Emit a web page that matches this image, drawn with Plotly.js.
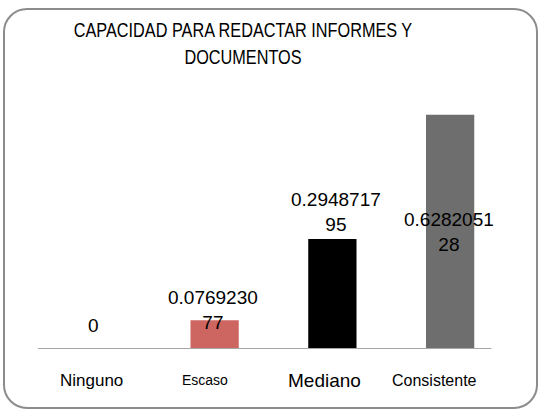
<!DOCTYPE html>
<html>
<head>
<meta charset="utf-8">
<script src="https://cdn.plot.ly/plotly-3.0.1.min.js"></script>
<style>
  body { margin: 0; background: #ffffff; }
  #wrap { position: relative; width: 540px; height: 412px; }
  #chart { position: absolute; left: 0; top: 0; width: 540px; height: 412px; }
  #frame { position: absolute; left: 3px; top: 8px; width: 531px; height: 397px;
           border: 2px solid #8c8c8c; border-radius: 24px; pointer-events: none; }
</style>
</head>
<body>
<div id="wrap"><div id="chart"></div><div id="frame"></div></div>
<script>
const categories = ['Ninguno', 'Escaso', 'Mediano', 'Consistente'];
const values = [0, 0.076923077, 0.294871795, 0.628205128];
const valueLabels = ['0', '0.0769230<br>77', '0.2948717<br>95', '0.6282051<br>28'];
const barColors = ['#cd6660', '#cd6660', '#000000', '#6e6e6e'];
const titleText = 'CAPACIDAD PARA REDACTAR INFORMES Y<br>DOCUMENTOS';

// presentation settings (not data)
const labelShift = [24, 10, 27, -117];
const labelXShift = [-3, -2, 4, -1];
const catSizes = [17, 14, 19, 16];
const catShift = [-5, -10, -8, -16];
const FONT = '"Liberation Sans", Arial, sans-serif';

const valueAnnotations = categories.map((c, i) => ({
  x: c, y: values[i], xref: 'x', yref: 'y',
  text: valueLabels[i], showarrow: false,
  xshift: labelXShift[i], yshift: labelShift[i], yanchor: 'middle',
  font: { family: FONT, size: 19, color: '#000000' }
}));

const categoryAnnotations = categories.map((c, i) => ({
  x: c, y: 0, xref: 'x', yref: 'y',
  text: c, showarrow: false,
  xshift: catShift[i], yshift: -31, yanchor: 'middle',
  font: { family: FONT, size: catSizes[i], color: '#000000' }
}));

const data = [{
  type: 'bar',
  x: categories,
  y: values,
  marker: { color: barColors },
  width: 0.41,
  hoverinfo: 'none'
}];

const layout = {
  width: 540, height: 412,
  margin: { l: 38, r: 31, t: 88, b: 63 },
  paper_bgcolor: '#ffffff', plot_bgcolor: '#ffffff',
  showlegend: false,
  title: { text: titleText, x: 0.45, xanchor: 'center', y: 0.91, yanchor: 'top',
           font: { family: FONT, size: 21, color: '#000000' } },
  xaxis: { type: 'category', range: [-0.5, 3.5], showline: false, showgrid: false,
           zeroline: false, ticks: '', showticklabels: false },
  yaxis: { range: [0, 0.7], visible: false, showgrid: false, zeroline: false },
  shapes: [{ type: 'line', xref: 'x', yref: 'y', x0: -0.5, x1: 3.35, y0: 0, y1: 0,
             line: { color: '#a6a6a6', width: 2 } }],
  annotations: valueAnnotations.concat(categoryAnnotations)
};

Plotly.newPlot('chart', data, layout, { staticPlot: true }).then(function (gd) {
  // emulate the condensed title face of the original
  const t = gd.querySelector('.gtitle');
  if (t) {
    const cx = parseFloat(t.getAttribute('x')) || 0;
    t.setAttribute('transform', 'translate(' + cx + ',0) scale(0.775,1) translate(' + (-cx) + ',0)');
  }
});
</script>
</body>
</html>
